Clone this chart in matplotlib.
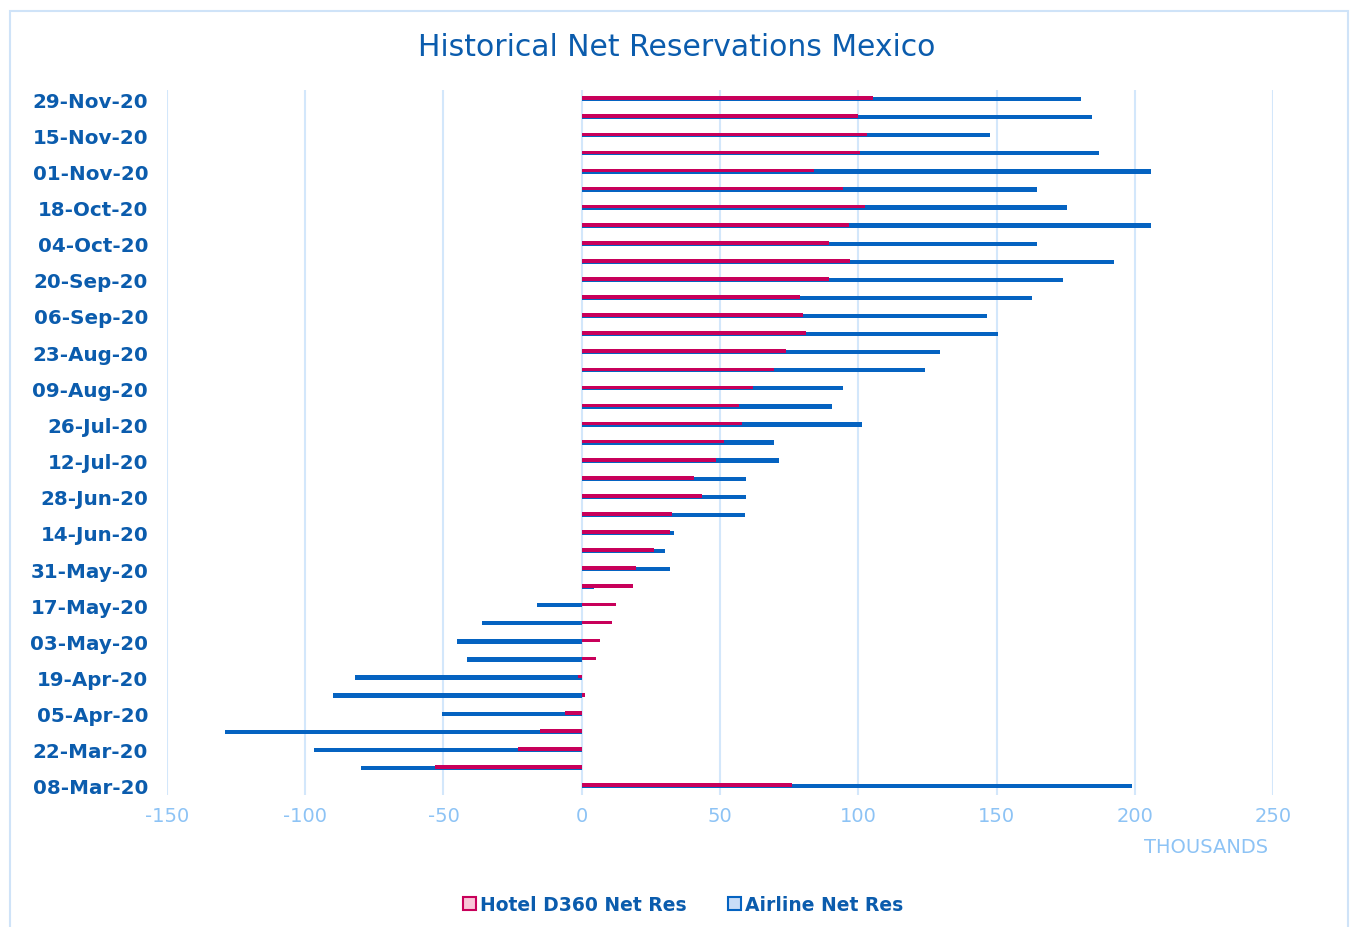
import numpy as np
import matplotlib
matplotlib.use("Agg")
import matplotlib.pyplot as plt
from matplotlib.patches import Rectangle, Patch

# semanas (domingo), de 08-Mar-20 a 29-Nov-20
weeks = ["08-Mar-20", "15-Mar-20", "22-Mar-20", "29-Mar-20", "05-Apr-20", "12-Apr-20",
         "19-Apr-20", "26-Apr-20", "03-May-20", "10-May-20", "17-May-20", "24-May-20",
         "31-May-20", "07-Jun-20", "14-Jun-20", "21-Jun-20", "28-Jun-20", "05-Jul-20",
         "12-Jul-20", "19-Jul-20", "26-Jul-20", "02-Aug-20", "09-Aug-20", "16-Aug-20",
         "23-Aug-20", "30-Aug-20", "06-Sep-20", "13-Sep-20", "20-Sep-20", "27-Sep-20",
         "04-Oct-20", "11-Oct-20", "18-Oct-20", "25-Oct-20", "01-Nov-20", "08-Nov-20",
         "15-Nov-20", "22-Nov-20", "29-Nov-20"]

# valores em milhares
hotel = [76, -53, -23, -15, -6, 1, -1.5, 5, 6.5, 11, 12.5, 18.5,
         19.5, 26, 32, 32.5, 43.5, 40.5, 48.5, 51.5, 58, 57, 62, 69.5,
         74, 81, 80, 79, 89.5, 97, 89.5, 96.5, 102.5, 94.5, 84, 100.5,
         103, 100, 105.5]
airline = [199, -80, -97, -129, -50.5, -90, -82, -41.5, -45, -36, -16, 4.5,
           32, 30, 33.5, 59, 59.5, 59.5, 71.5, 69.5, 101.5, 90.5, 94.5, 124,
           129.5, 150.5, 146.5, 163, 174, 192.5, 164.5, 206, 175.5, 164.5, 206, 187,
           147.5, 184.5, 180.5]

x_ticks = [-150, -100, -50, 0, 50, 100, 150, 200, 250]

azul = "#0B5CAD"
barra_azul = "#0563C1"
carmim = "#C8005A"
claro = "#8DC3F5"
grade = "#D3E7FB"

fig = plt.figure(figsize=(13.53, 9.28), dpi=100)
ax = fig.add_axes([0.1234, 0.1422, 0.8175, 0.7597])

# moldura do gráfico
fig.patches.append(Rectangle((10 / 1353, -0.01), 1338 / 1353, 0.997, transform=fig.transFigure,
                             fill=False, edgecolor="#CFE3F8", linewidth=1.5))

y = np.arange(len(weeks))
ax.barh(y, airline, height=0.24, color=barra_azul, zorder=3)
ax.barh(y + 0.05, hotel, height=0.2, color=carmim, zorder=4)

ax.set_xlim(-150, 250)
ax.set_ylim(-0.5, len(weeks) - 0.5)
ax.set_xticks(x_ticks)
ax.set_xticklabels([str(t) for t in x_ticks])
ax.set_yticks(y[::2])
ax.set_yticklabels(weeks[::2])

ax.grid(axis="x", color=grade, linewidth=1.5, zorder=0)
for s in ax.spines.values():
    s.set_visible(False)
ax.tick_params(axis="both", length=0)
ax.tick_params(axis="x", labelsize=14, labelcolor=claro, pad=8)
ax.tick_params(axis="y", labelsize=14.3, labelcolor=azul, pad=13.5)
for lb in ax.get_yticklabels():
    lb.set_fontweight("bold")

fig.text(0.5, 0.949, "Historical Net Reservations Mexico", ha="center", va="center",
         fontsize=21.5, color=azul)
fig.text(0.937, 0.087, "THOUSANDS", ha="right", va="center", fontsize=14, color=claro)

handles = [Patch(facecolor="#F9C7D8", edgecolor=carmim, linewidth=1.5, label="Hotel D360 Net Res"),
           Patch(facecolor="#C9DDF7", edgecolor=barra_azul, linewidth=1.5, label="Airline Net Res")]
leg = fig.legend(handles=handles, loc="center", bbox_to_anchor=(0.505, 0.024), ncol=2,
                 frameon=False, handlelength=0.7, handleheight=0.7, handletextpad=0.2,
                 columnspacing=2.2, prop={"size": 13.5, "weight": "bold"})
for t in leg.get_texts():
    t.set_color(azul)

fig.savefig("out.png", dpi=100, facecolor="white")
